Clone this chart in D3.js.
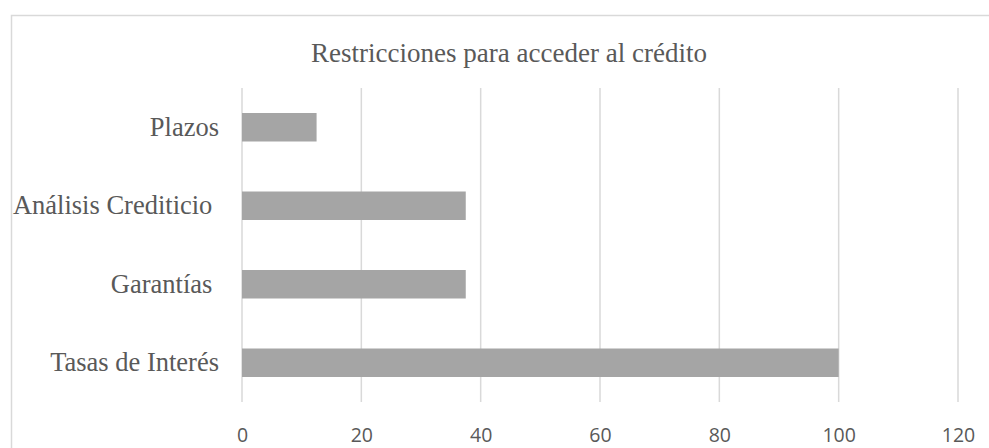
<!DOCTYPE html>
<html>
<head>
<meta charset="utf-8">
<script src="https://cdn.jsdelivr.net/npm/d3@7"></script>
<style>
  body { margin: 0; background: #fff; }
  text { white-space: pre; }
</style>
</head>
<body>
<div id="chart"></div>
<script>
// data
const categories = ['Plazos', 'Análisis Crediticio ', 'Garantías ', 'Tasas de Interés'];
const values = [12.5, 37.5, 37.5, 100];
const ticks = [0, 20, 40, 60, 80, 100, 120];
const title = 'Restricciones para acceder al crédito';

const W = 989;
const H = 448;
const margin = { top: 88, right: 31, bottom: 46, left: 242 };
const width = W - margin.left - margin.right;
const height = H - margin.top - margin.bottom;

const svg = d3.select('#chart').append('svg')
  .attr('width', W)
  .attr('height', H);

// chart frame
svg.append('rect')
  .attr('x', 11.5)
  .attr('y', 15.5)
  .attr('width', W + 10)
  .attr('height', H + 10)
  .attr('fill', 'none')
  .attr('stroke', '#d9d9d9')
  .attr('stroke-width', 1.5);

const x = d3.scaleLinear()
  .domain([0, 120])
  .range([0, width]);

const y = d3.scaleBand()
  .domain(categories)
  .range([0, height])
  .paddingInner(0.637)
  .paddingOuter(0.3185);

const g = svg.append('g')
  .attr('transform', `translate(${margin.left}, ${margin.top})`);

// gridlines
g.selectAll('.grid')
  .data(ticks)
  .enter().append('line')
    .attr('class', 'grid')
    .attr('x1', d => x(d))
    .attr('x2', d => x(d))
    .attr('y1', 0)
    .attr('y2', height)
    .attr('stroke', '#d9d9d9')
    .attr('stroke-width', 1.5);

// bars
g.selectAll('.bar')
  .data(values)
  .enter().append('rect')
    .attr('class', 'bar')
    .attr('x', x(0))
    .attr('y', (d, i) => y(categories[i]))
    .attr('width', d => x(d) - x(0))
    .attr('height', y.bandwidth())
    .attr('fill', '#a5a5a5');

// x axis
const xAxis = g.append('g')
  .attr('transform', `translate(0, ${height})`)
  .call(d3.axisBottom(x).tickValues(ticks).tickSize(0).tickPadding(26));
xAxis.select('.domain').remove();
xAxis.selectAll('text')
  .attr('fill', '#595959')
  .style('font-family', '"Open Sans", sans-serif')
  .style('font-size', '19.5px');

// y axis labels
const yAxis = g.append('g')
  .call(d3.axisLeft(y).tickSize(0).tickPadding(23));
yAxis.select('.domain').remove();
yAxis.selectAll('text')
  .attr('fill', '#595959')
  .style('font-family', '"Liberation Serif", "Times New Roman", serif')
  .style('font-size', '26.5px');

// title
svg.append('text')
  .attr('x', 509)
  .attr('y', 62)
  .attr('text-anchor', 'middle')
  .attr('fill', '#595959')
  .style('font-family', '"Liberation Serif", "Times New Roman", serif')
  .style('font-size', '27px')
  .text(title);
</script>
</body>
</html>
